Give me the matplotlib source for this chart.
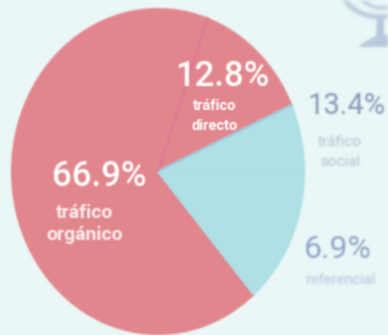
import numpy as np
import matplotlib
matplotlib.use('Agg')
import matplotlib.pyplot as plt
from matplotlib.patches import Arc, Polygon

plt.rcParams['font.family'] = ['Roboto', 'DejaVu Sans']

# Values
shares = [12.8, 66.9, 13.4, 6.9]
share_labels = ['12.8%', '66.9%', '13.4%', '6.9%']
slice_colors = ['#E2868D', '#E2868D', '#AEE0E6', '#AEE0E6']
names = ['tráfico\ndirecto', 'tráfico\norgánico', 'tráfico\nsocial', 'referencial']

W, H = 388, 335
BG = '#EAF7F6'


def blur(radius):
    # the reference is a soft photo of a slide, so soften marks a bit
    def _filter(img, dpi):
        pad = int(np.ceil(radius * 3))
        out = np.pad(img, ((pad, pad), (pad, pad), (0, 0)))
        # premultiply, otherwise edges go dark
        out[..., :3] *= out[..., 3:]
        kernel = np.exp(-0.5 * (np.arange(-pad, pad + 1) / radius) ** 2)
        kernel /= kernel.sum()
        for axis in (0, 1):
            out = np.apply_along_axis(lambda c: np.convolve(c, kernel, mode='same'), axis, out)
        alpha = np.clip(out[..., 3:], 1e-6, 1)
        out[..., :3] = np.clip(out[..., :3] / alpha, 0, 1)
        return out, -pad, -pad
    return _filter


fig = plt.figure(figsize=(W / 100, H / 100), dpi=100, facecolor=BG)

# Pie is stretched vertically in the photo
ax = fig.add_axes([12 / W, 1 - 334 / H, 292 / W, 325 / H], zorder=1)
wedges, _ = ax.pie(shares, colors=slice_colors, startangle=24, counterclock=True,
                   radius=1, wedgeprops=dict(linewidth=1.5), frame=False)
ax.set_aspect('auto')
ax.set_xlim(-1, 1)
ax.set_ylim(-1, 1)
for w, col in zip(wedges, slice_colors):
    w.set_edgecolor(col)  # overlap neighbours so the blur leaves no gap
    w.set_agg_filter(blur(0.9))

# Thin seams between slices
for angle, col in [(24, '#94BFE0'), (24 + shares[0] * 3.6, '#DE6FA0')]:
    a = np.deg2rad(angle)
    ax.plot([0, np.cos(a)], [0, np.sin(a)], color=col, lw=0.9, agg_filter=blur(0.7))

# Pixel-space layer for text and icon, above the pie
bg = fig.add_axes([0, 0, 1, 1], zorder=2)
bg.set_xlim(0, W)
bg.set_ylim(H, 0)
bg.axis('off')

# Globe icon, cut off by the top edge
icon = '#BBCADF'
bg.add_patch(Arc((380, -16), 80, 66, theta1=40, theta2=170, color=icon, lw=3.5, agg_filter=blur(1.2)))
bg.add_patch(Arc((382, -14), 50, 44, theta1=30, theta2=160, color=icon, lw=2.5, agg_filter=blur(1.2)))
bg.add_patch(Polygon([[377, 17], [384, 17], [384, 33], [388, 37], [388, 47], [358, 47], [366, 41], [376, 36]],
                     closed=True, color=icon, lw=0, agg_filter=blur(1.2)))

# Percentages
bg.text(222, 77, share_labels[0], color='white', fontsize=25, fontweight='medium', ha='center', va='center',
        agg_filter=blur(0.8))
bg.text(99, 176, share_labels[1], color='white', fontsize=25, fontweight='medium', ha='center', va='center',
        agg_filter=blur(0.8))
bg.text(308, 106, share_labels[2], color='#8897B8', fontsize=21, ha='left', va='center', agg_filter=blur(1))
bg.text(338, 249, share_labels[3], color='#93A3C9', fontsize=23, ha='center', va='center', agg_filter=blur(1))

# Names under the percentages
bg.text(215, 116, names[0], color='white', fontsize=10.5, fontweight='bold', ha='center', va='center',
        linespacing=1.5, agg_filter=blur(0.7))
bg.text(85, 224, names[1], color='#FBEFF0', fontsize=14, fontweight='bold', ha='center', va='center',
        linespacing=1.3, agg_filter=blur(0.8))
bg.text(340, 152, names[2], color='#B4C0D0', fontsize=11, ha='center', va='center',
        linespacing=1.5, agg_filter=blur(1.2))
bg.text(341, 280, names[3], color='#B6C4DC', fontsize=10.5, ha='center', va='center', agg_filter=blur(1.2))

fig.savefig('out.png', dpi=100, facecolor=BG)
